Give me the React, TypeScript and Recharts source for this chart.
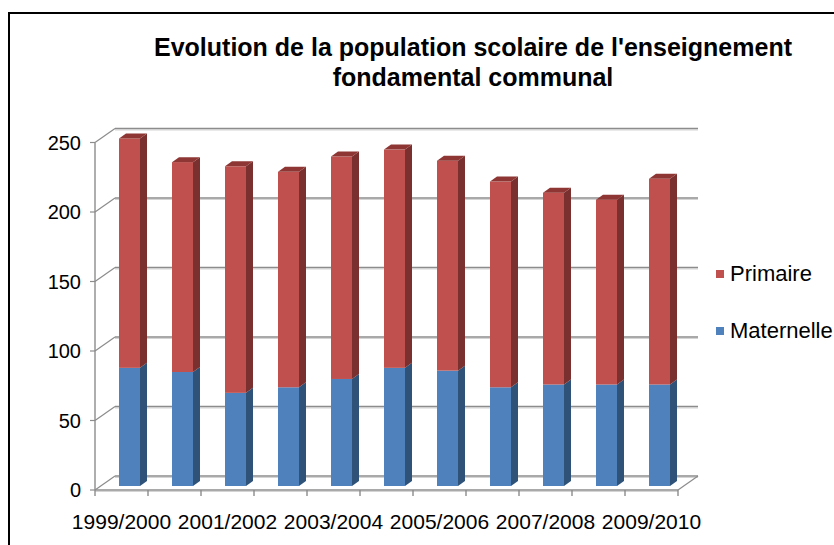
import { Bar, BarChart, CartesianGrid, XAxis, YAxis } from 'recharts'

const years = [
  '1999/2000', '2000/2001', '2001/2002', '2002/2003', '2003/2004', '2004/2005',
  '2005/2006', '2006/2007', '2007/2008', '2008/2009', '2009/2010',
]
const maternelle = [85, 82, 67, 71, 77, 85, 83, 71, 73, 73, 73]
const primaire = [165, 151, 163, 155, 160, 157, 151, 148, 138, 133, 148]
const yTicks = [0, 50, 100, 150, 200, 250]

const data = years.map((year, i) => ({ year, maternelle: maternelle[i], primaire: primaire[i] }))

const FONT = '"Liberation Sans", Arial, sans-serif'
const W = 834
const H = 545
const LEFT = 95
const RIGHT = 678
const TOP = 138.5
const BOTTOM = 486
const BAND = (RIGHT - LEFT) / years.length
// 3D offsets
const FRONT_DY = 4
const WALL_DX = 20
const WALL_DY = 10
const BAR_DX = 7
const BAR_DY = 5

const GRID = '#8c8c8c'

function Bar3D(props: any) {
  const { x, y, width, height, front, side, top, cap } = props
  if (width == null || height == null) return null
  const X = x + 8
  return (
    <g>
      <rect x={X} y={y} width={width} height={height} fill={front} />
      <polygon
        points={`${X + width},${y} ${X + width + BAR_DX},${y - BAR_DY} ${X + width + BAR_DX},${y + height - BAR_DY} ${X + width},${y + height}`}
        fill={side}
      />
      {cap && (
        <polygon
          points={`${X},${y} ${X + BAR_DX},${y - BAR_DY} ${X + width + BAR_DX},${y - BAR_DY} ${X + width},${y}`}
          fill={top}
        />
      )}
    </g>
  )
}

function GridLine(props: any) {
  const { x1, x2, y1, index } = props
  const yw = y1 - WALL_DY
  const yf = y1 + FRONT_DY
  const isBottom = Math.abs(y1 - BOTTOM) < 1
  return (
    <g key={`g-${index}`}>
      <line x1={x1 + WALL_DX} y1={yw + 1.5} x2={x2 + WALL_DX} y2={yw + 1.5} stroke="#d4d4d4" strokeWidth={1} />
      <line x1={x1 + WALL_DX} y1={yw} x2={x2 + WALL_DX} y2={yw} stroke={GRID} strokeWidth={1.6} />
      <line x1={x1} y1={yf} x2={x1 + WALL_DX} y2={yw} stroke={GRID} strokeWidth={1.2} />
      <line x1={x1 - 5} y1={yf} x2={x1} y2={yf} stroke={GRID} strokeWidth={1.2} />
      {isBottom && (
        <g>
          <line x1={x1} y1={TOP + FRONT_DY} x2={x1} y2={yf} stroke={GRID} strokeWidth={1.4} />
          <line x1={x1} y1={yf + 1.5} x2={x2} y2={yf + 1.5} stroke="#d4d4d4" strokeWidth={1} />
          <line x1={x1} y1={yf} x2={x2} y2={yf} stroke={GRID} strokeWidth={1.6} />
          <line x1={x2} y1={yf} x2={x2 + WALL_DX} y2={yw} stroke={GRID} strokeWidth={1.2} />
        </g>
      )}
    </g>
  )
}

function XTick(props: any) {
  const { x, index, payload } = props
  const yf = BOTTOM + FRONT_DY
  const left = x - BAND / 2
  return (
    <g>
      <line x1={left} y1={yf} x2={left} y2={yf + 6} stroke={GRID} strokeWidth={1.4} />
      {index === years.length - 1 && (
        <line x1={left + BAND} y1={yf} x2={left + BAND} y2={yf + 6} stroke={GRID} strokeWidth={1.4} />
      )}
      {index % 2 === 0 && (
        <text x={x} y={yf + 39} textAnchor="middle" fontSize={21} fontFamily={FONT} fill="#000">
          {payload.value}
        </text>
      )}
    </g>
  )
}

function YTick(props: any) {
  const { y, payload } = props
  return (
    <text x={LEFT - 14} y={y + FRONT_DY + 7} textAnchor="end" fontSize={20} fontFamily={FONT} fill="#000">
      {payload.value}
    </text>
  )
}

const legendItems = [
  { label: 'Primaire', color: '#C0504D', top: 262 },
  { label: 'Maternelle', color: '#4F81BD', top: 319 },
]

export default function App() {
  return (
    <div style={{ position: 'absolute', left: 0, top: 0, width: W, height: H, overflow: 'hidden', background: '#fff' }}>
      <div
        style={{
          position: 'absolute', left: 8, top: 12, width: 900, height: 600,
          borderLeft: '2px solid #000', borderTop: '2px solid #000',
        }}
      />
      <div
        style={{
          position: 'absolute', left: 100, top: 32, width: 746, textAlign: 'center',
          fontFamily: FONT, fontWeight: 'bold', fontSize: 25, lineHeight: '30px', color: '#000',
        }}
      >
        Evolution de la population scolaire de l'enseignement
        <br />
        fondamental communal
      </div>
      <div style={{ position: 'absolute', left: 0, top: 0 }}>
        <BarChart
          width={W}
          height={H}
          data={data}
          margin={{ top: TOP, right: W - RIGHT, bottom: 0, left: 8 }}
          barSize={21}
        >
          <CartesianGrid vertical={false} horizontal={(p: any) => <GridLine {...p} />} />
          <XAxis dataKey="year" interval={0} height={H - BOTTOM} axisLine={false} tickLine={false} tick={<XTick />} />
          <YAxis
            domain={[0, 250]}
            ticks={yTicks}
            width={LEFT - 8}
            axisLine={false}
            tickLine={false}
            tick={<YTick />}
          />
          <Bar
            dataKey="maternelle"
            stackId="a"
            fill="#4F81BD"
            isAnimationActive={false}
            shape={(p: any) => <Bar3D {...p} front="#4F81BD" side="#2F5279" top="#3A6496" />}
          />
          <Bar
            dataKey="primaire"
            stackId="a"
            fill="#C0504D"
            isAnimationActive={false}
            shape={(p: any) => <Bar3D {...p} front="#C0504D" side="#7A302E" top="#8E3633" cap />}
          />
        </BarChart>
      </div>
      {legendItems.map((it) => (
        <div
          key={it.label}
          style={{
            position: 'absolute', left: 716, top: it.top, height: 24, display: 'flex', alignItems: 'center',
            fontFamily: FONT, fontSize: 22, color: '#000', whiteSpace: 'nowrap',
          }}
        >
          <span style={{ width: 8, height: 8, background: it.color, display: 'inline-block', marginRight: 6 }} />
          <span>{it.label}</span>
        </div>
      ))}
    </div>
  )
}
